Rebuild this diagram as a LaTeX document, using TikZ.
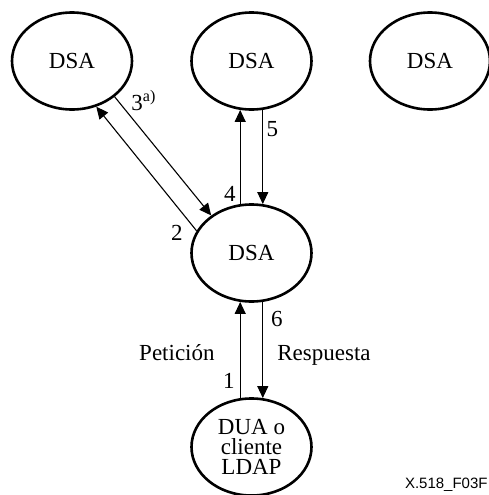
\documentclass[tikz,border=0pt]{standalone}
\usepackage{fontspec}
\setmainfont{Liberation Serif}
\newfontfamily\codefont{Liberation Sans}
\usetikzlibrary{shapes.geometric,arrows.meta}

\tikzset{
  dsa/.style={ellipse,draw,line width=1.3pt,minimum width=60pt,minimum height=48.5pt,
    inner sep=0pt,align=center,font=\fontsize{11.5}{10}\selectfont},
  msg/.style={line width=0.55pt,-{Triangle[length=6pt,width=5.5pt]}},
  lbl/.style={inner sep=0pt,anchor=base,font=\fontsize{11.5}{13}\selectfont}
}

\begin{document}
\begin{tikzpicture}[x=0.5pt,y=0.5pt]
  \useasboundingbox (0,0) rectangle (489,495);

  % DSAs
  \node[dsa] (dsaL) at (72,434) {DSA};
  \node[dsa] (dsaT) at (251.5,434) {DSA};
  \node[dsa] (dsaR) at (430,434) {DSA};
  \node[dsa] (dsaM) at (251.5,242) {DSA};
  \node[dsa] (dua) at (251.5,48) {DUA o\\cliente\\LDAP};

  % messages
  \draw[msg] (dua.103) -- (dsaM.-103);
  \draw[msg] (dsaM.158) -- (dsaL.-62);
  \draw[msg] (dsaL.-40) -- (dsaM.137.5);
  \draw[msg] (dsaM.103) -- (dsaT.-103);
  \draw[msg] (dsaT.-77) -- (dsaM.77);
  \draw[msg] (dsaM.-77) -- (dua.77);

  \node[lbl,anchor=base west] (n3) at (131,385) {3\textsuperscript{a)}};
  \node[lbl] (n4) at (230,294) {4};
  \node[lbl] (n5) at (272.5,359) {5};
  \node[lbl] (n2) at (177,255) {2};
  \node[lbl] (n1) at (229,106) {1};
  \node[lbl] (n6) at (277,169) {6};
  \node[lbl,anchor=base east] (req) at (215,135) {Petición};
  \node[lbl,anchor=base west] (resp) at (277,135) {Respuesta};

  \node[inner sep=0pt,anchor=base east,font=\codefont\fontsize{7.5}{9}\selectfont] (code) at (488,6) {X.518\_F03F};
\end{tikzpicture}
\end{document}
